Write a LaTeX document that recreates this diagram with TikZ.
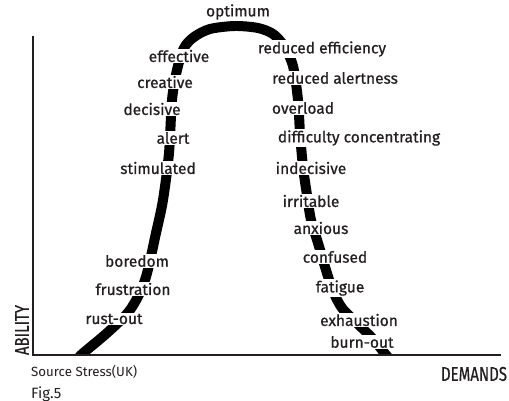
\documentclass[tikz,border=0pt]{standalone}
\usepackage{fontspec}
\setmainfont{Fira Sans}
\newfontfamily\medf{Fira Sans}[FakeBold=0.7]
\definecolor{ink}{HTML}{231F20}
\begin{document}
\begin{tikzpicture}[x=1pt,y=-1pt,
  lbl/.style={fill=white,inner sep=1pt,text=ink,font=\medf\fontsize{15.5}{17}\selectfont},
  axlbl/.style={inner sep=0pt,text=ink,font=\medf\fontsize{20}{22}\selectfont},
  src/.style={inner sep=0pt,text=ink,font=\fontsize{13.3}{15}\selectfont,anchor=west}]
\useasboundingbox (0,0) rectangle (509,401);
% curve
\begin{scope}
\clip (0,0) rectangle (509,354);
\draw[line width=10pt,black] plot[smooth,tension=0.5] coordinates {
 (76,362) (81,355) (107,333) (130,310) (145,280) (156,233) (163,200) (169,153)
 (172,100) (177,70) (184,48) (194,37) (210,29) (235,26) (258,28) (273,34)
 (284,46) (293,66)
 (298,100) (300,133) (303,167) (307,195) (311,220) (318,243) (326,270)
 (333,291) (342,308) (358,324) (374,340) (386,355) (393,362)};
\end{scope}
% axes
\coordinate (ytop) at (33,36);
\coordinate (orig) at (33,355);
\coordinate (xend) at (501,355);
\draw[line width=2pt,ink] (ytop) -- (orig) -- (xend);
% labels left
\node[lbl] (optimum) at (238,12) {optimum};
\node[lbl] (effective) at (179,56) {effective};
\node[lbl] (creative) at (165,82) {creative};
\node[lbl] (decisive) at (152,109) {decisive};
\node[lbl] (alert) at (173,138) {alert};
\node[lbl] (stimulated) at (158,168) {stimulated};
\node[lbl] (boredom) at (137,261) {boredom};
\node[lbl] (frustration) at (133,289) {frustration};
\node[lbl] (rustout) at (114,319) {rust-out};
% labels right
\node[lbl] (redeff) at (322,49) {reduced efficiency};
\node[lbl] (redalert) at (335,78) {reduced alertness};
\node[lbl] (overload) at (303,108) {overload};
\node[lbl] (diffconc) at (359,138) {difficulty concentrating};
\node[lbl] (indecisive) at (311,168) {indecisive};
\node[lbl] (irritable) at (311,201) {irritable};
\node[lbl] (anxious) at (321,228) {anxious};
\node[lbl] (confused) at (335,257) {confused};
\node[lbl] (fatigue) at (340,288) {fatigue};
\node[lbl] (exhaustion) at (359,320) {exhaustion};
\node[lbl] (burnout) at (362,342) {burn-out};
% axis labels
\node[axlbl,rotate=90,xscale=0.75] (ability) at (22,330) {ABILITY};
\node[axlbl,xscale=0.75] (demands) at (474,374) {DEMANDS};
\node[src] (source) at (31,372) {Source Stress(UK)};
\node[src,font=\fontsize{15}{17}\selectfont] (fig) at (31,394) {Fig.5};
\end{tikzpicture}
\end{document}
